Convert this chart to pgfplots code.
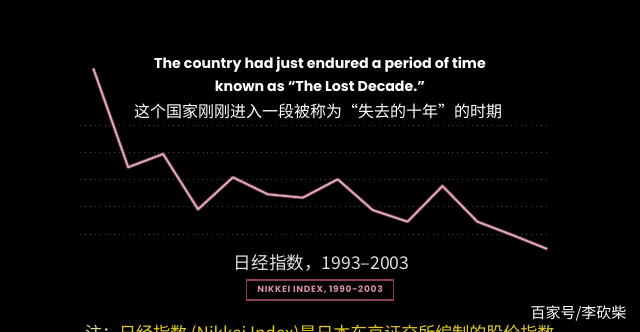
\documentclass[border=0pt]{standalone}
\usepackage{fontspec}
\usepackage{pgfplots}
\pgfplotsset{compat=1.18}
\newfontfamily\poppins{Poppins}
\newfontfamily\poppinsspaced{Poppins}[LetterSpace=8]
\newfontfamily\cjk{Noto Sans CJK SC}
\definecolor{linepink}{RGB}{232,166,190}
\definecolor{boxpink}{RGB}{140,60,95}
\definecolor{textpink}{RGB}{215,140,175}
\definecolor{gridgray}{RGB}{70,70,70}
\definecolor{noteyellow}{RGB}{228,205,30}
\definecolor{notepale}{RGB}{225,220,150}
\begin{document}
\begin{tikzpicture}
\path[use as bounding box] (0pt,0pt) rectangle (640pt,-332pt);
\fill[black] (0pt,0pt) rectangle (640pt,-332pt);
\begin{scope}
\clip (0pt,0pt) rectangle (640pt,-332pt);
\begin{axis}[
  at={(80pt,-261.25pt)}, anchor=south west,
  scale only axis, width=470pt, height=201.65pt,
  xmin=-0.38, xmax=13.08, ymin=5000, ymax=42000,
  axis line style={draw=none},
  xtick=\empty, ytick={10000,15000,20000,25000,30000},
  yticklabels={}, major tick length=0pt,
  ymajorgrids,
  grid style={gridgray, line width=0.9pt, dash pattern=on 0.9pt off 4pt},
]
\addplot[linepink!55!black, opacity=0.6, line width=3.6pt, line join=round] coordinates {
(0,40400) (1,22250) (2,24680) (3,14530) (4,20400) (5,17280) (6,16660)
(7,20040) (8,14400) (9,12260) (10,18810) (11,12260) (12,9820) (13,7250)};
\addplot[linepink, line width=1.8pt, line join=round] coordinates {
(0,40400) (1,22250) (2,24680) (3,14530) (4,20400) (5,17280) (6,16660)
(7,20040) (8,14400) (9,12260) (10,18810) (11,12260) (12,9820) (13,7250)};
\end{axis}
\node[text=white, font=\poppins\bfseries\fontsize{14.2}{16}\selectfont] at (320pt,-65pt) {The country had just endured a period of time};
\node[text=white, font=\poppins\bfseries\fontsize{14.2}{16}\selectfont] at (320pt,-86.7pt) {known as “The Lost Decade.”};
\node[text=white, font=\cjk\fontsize{16}{18}\selectfont] at (318pt,-111.7pt) {这个国家刚刚进入一段被称为“失去的十年”的时期};
\node[text={rgb,255:red,225;green,225;blue,225}, font=\cjk\fontsize{17.6}{20}\selectfont] at (321.7pt,-262.7pt) {日经指数，1993–2003};
\node[draw=boxpink, line width=1.3pt, minimum width=146.6pt, minimum height=20pt, inner sep=0pt, text=textpink, font=\poppinsspaced\bfseries\fontsize{9}{10}\selectfont] at (320pt,-290pt) {NIKKEI INDEX, 1990-2003};
\node[anchor=east, text=white, font=\cjk\fontsize{15}{18}\selectfont] at (630pt,-313pt) {百家号/李砍柴};
\node[anchor=base west, inner sep=0pt, font=\cjk\fontsize{17}{20}\selectfont] at (85pt,-339pt) {\textcolor{notepale}{注：}\textcolor{noteyellow}{日经指数 (Nikkei Index)是日本东京证交所编制的股价指数}};
\end{scope}
\end{tikzpicture}
\end{document}
